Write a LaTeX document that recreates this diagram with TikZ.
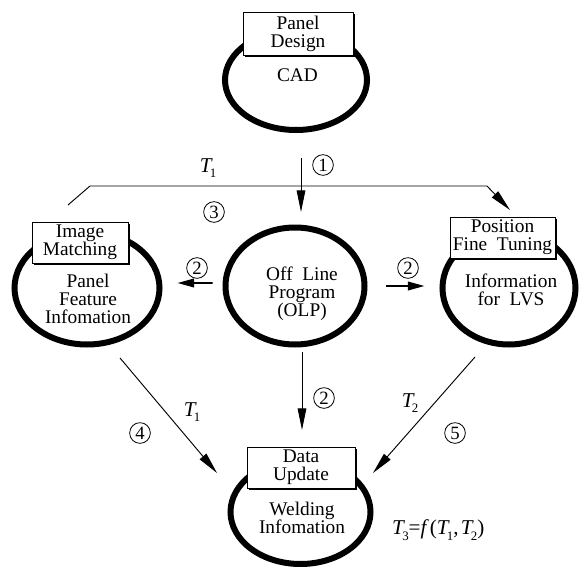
\documentclass[tikz,border=0pt]{standalone}
\usepackage{fontspec}
\setmainfont{Liberation Serif}
\usetikzlibrary{positioning,arrows.meta,shapes.geometric,shadows}
\newcommand{\Ti}[1]{\textit{T}\kern-0.14em\raisebox{-0.55ex}{\fontsize{11}{11}\selectfont #1}}
\tikzset{
  tam/.style 2 args={minimum width=#1*0.3mm, minimum height=#2*0.3mm},
  elipse/.style={ellipse, draw, line width=1.8mm, inner sep=0pt},
  caja/.style={rectangle, draw, fill=white, line width=0.7pt, inner sep=0pt,
    align=center, font=\fontsize{16.5}{15.5}\selectfont,
    drop shadow={shadow xshift=0.6mm, shadow yshift=-0.6mm, fill=black, opacity=1}},
  texto/.style={align=center, font=\fontsize{16.5}{15.5}\selectfont},
  flecha/.style={-{Triangle[length=6.5mm,width=2.6mm]}, line width=0.8pt},
  flechag/.style={-{Triangle[length=5mm,width=2.6mm]}, line width=1.5pt},
  num/.style={circle, draw, line width=0.7pt, minimum size=6.2mm, inner sep=0pt,
    font=\fontsize{16}{16}\selectfont},
  etq/.style={font=\fontsize{18}{18}\selectfont},
}
\begin{document}
\begin{tikzpicture}[x=0.3mm, y=-0.3mm]
  \useasboundingbox (0,0) rectangle (588,569);
  % circulos
  \node[elipse, tam={142}{100}] (cad) at (296,80) {};
  \node[elipse, tam={139}{117}] (olp) at (295,286) {};
  \node[elipse, tam={145}{113}] (pf)  at (87,288) {};
  \node[elipse, tam={133}{113}] (lvs) at (509,288) {};
  \node[elipse, tam={140}{104}] (wel) at (300.5,512) {};
  % cajas
  \node[caja, tam={110}{43}] (cadbox) at (298,33.5) {Panel\\Design};
  \node[caja, tam={96}{41}]  (pfbox)  at (80,242.5) {Image\\Matching};
  \node[caja, tam={105}{41}] (lvsbox) at (502.5,237.5) {Position\\Fine\ \ Tuning};
  \node[caja, tam={108}{41}] (welbox) at (301,467.5) {Data\\Update};
  % textos
  \node[texto] (cadtxt) at (297.5,75) {CAD};
  \node[texto] (pftxt)  at (88,299)   {Panel\\Feature\\Infomation};
  \node[texto] (lvstxt) at (511,290)  {Information\\for\ \ LVS};
  \node[texto] (olptxt) at (302,294)  {Off\ \ Line\\Program\\(OLP)};
  \node[texto] (weltxt) at (302,518)  {Welding\\Infomation};
  % puntos libres
  \coordinate (a1) at (301,158);
  \coordinate (a2) at (301,212);
  \coordinate (t1a) at (68,205);
  \coordinate (t1b) at (90,186);
  \coordinate (t1c) at (487,186);
  \coordinate (t1d) at (510,210);
  \coordinate (b1) at (302,352);
  \coordinate (b2) at (302,430);
  \coordinate (c1) at (120,358);
  \coordinate (c2) at (217,473);
  \coordinate (d1) at (475,357);
  \coordinate (d2) at (373,473);
  % flechas
  \draw[flecha] (a1) -- (a2);
  \draw[flecha] (t1a) -- (t1b) -- (t1c) -- (t1d);
  \draw[flechag, shorten <=3mm, shorten >=4.5mm] ([yshift=0.9mm]olp.west) -- ([yshift=1.5mm]pf.east);
  \draw[flechag, shorten <=5.4mm, shorten >=4.5mm] (olp.east) -- (olp.east -| lvs.west);
  \draw[flecha] (b1) -- (b2);
  \draw[flecha] (c1) -- (c2);
  \draw[flecha] (d1) -- (d2);
  % etiquetas
  \node[num] (n1)  at (323,165) {1};
  \node[num] (n3)  at (214,212) {3};
  \node[num] (n2a) at (197,268) {2};
  \node[num] (n2b) at (408,268) {2};
  \node[num] (n2c) at (324,398) {2};
  \node[num] (n4)  at (140,433) {4};
  \node[num] (n5)  at (455,433) {5};
  \node[etq] (et1) at (208,168) {\Ti{1}};
  \node[etq] (et1b) at (192,412) {\Ti{1}};
  \node[etq] (et2) at (410,403) {\Ti{2}};
  \node[etq, anchor=west, inner sep=0pt] (et3) at (392,530) {\Ti{3}=\textit{f}\kern0.05em(\Ti{1},\kern0.1em\Ti{2})};
\end{tikzpicture}
\end{document}
